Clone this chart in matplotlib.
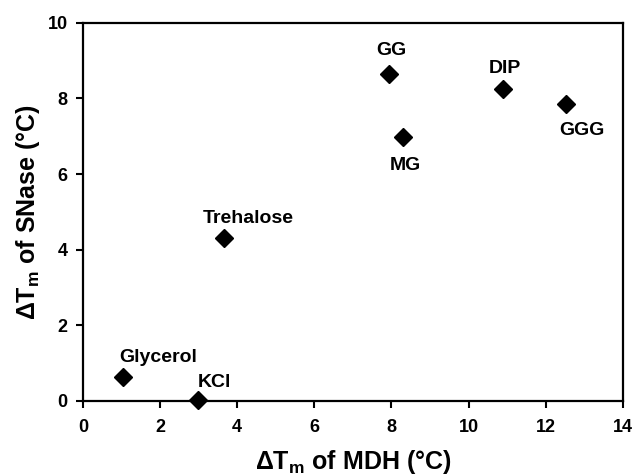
import matplotlib
matplotlib.use("Agg")
import matplotlib.pyplot as plt

# Stabilization of SNase vs MDH by osmolytes
names = ["Glycerol", "KCl", "Trehalose", "GG", "MG", "DIP", "GGG"]
dtm_mdh = [1.04, 2.98, 3.66, 7.93, 8.29, 10.9, 12.53]
dtm_snase = [0.63, 0.03, 4.31, 8.65, 6.97, 8.26, 7.86]

# label anchor points (center x, baseline y), data units
label_x = [1.94, 3.4, 4.28, 8.0, 8.37, 10.93, 12.93]
label_y = [1.03, 0.37, 4.71, 9.15, 6.11, 8.68, 7.04]

plt.rcParams['font.family'] = ['Liberation Sans', 'DejaVu Sans']
plt.rcParams['font.weight'] = 'bold'
plt.rcParams['mathtext.fontset'] = 'custom'
plt.rcParams['mathtext.rm'] = 'Liberation Sans:bold'
plt.rcParams['mathtext.it'] = 'Liberation Sans:bold'
plt.rcParams['mathtext.bf'] = 'Liberation Sans:bold'

fig = plt.figure(figsize=(6.33, 4.76), dpi=100)
ax = fig.add_axes([0.131, 0.158, 0.853, 0.794])

ax.plot(dtm_mdh, dtm_snase, linestyle='none', marker='D', markersize=9.5,
        color='black', clip_on=False, zorder=3)

for name, lx, ly in zip(names, label_x, label_y):
    ax.text(lx, ly, name, ha='center', va='baseline', fontsize=14, fontweight='bold')

ax.set_xlim(0, 14)
ax.set_ylim(0, 10)
ax.set_xticks(range(0, 15, 2))
ax.set_yticks(range(0, 11, 2))

for s in ax.spines.values():
    s.set_linewidth(1.6)
ax.tick_params(direction='out', length=5, width=1.5, labelsize=13)
ax.tick_params(axis='x', pad=8)
ax.tick_params(axis='y', pad=6)
for lab in ax.get_xticklabels() + ax.get_yticklabels():
    lab.set_fontweight('bold')

ax.set_xlabel(r'ΔT$_{\mathrm{m}}$ of MDH (°C)', fontsize=18, fontweight='bold')
ax.set_ylabel(r'ΔT$_{\mathrm{m}}$ of SNase (°C)', fontsize=18, fontweight='bold')
ax.xaxis.set_label_coords(0.5, -0.125)
ax.yaxis.set_label_coords(-0.076, 0.5)

fig.savefig('out.png', dpi=100)
